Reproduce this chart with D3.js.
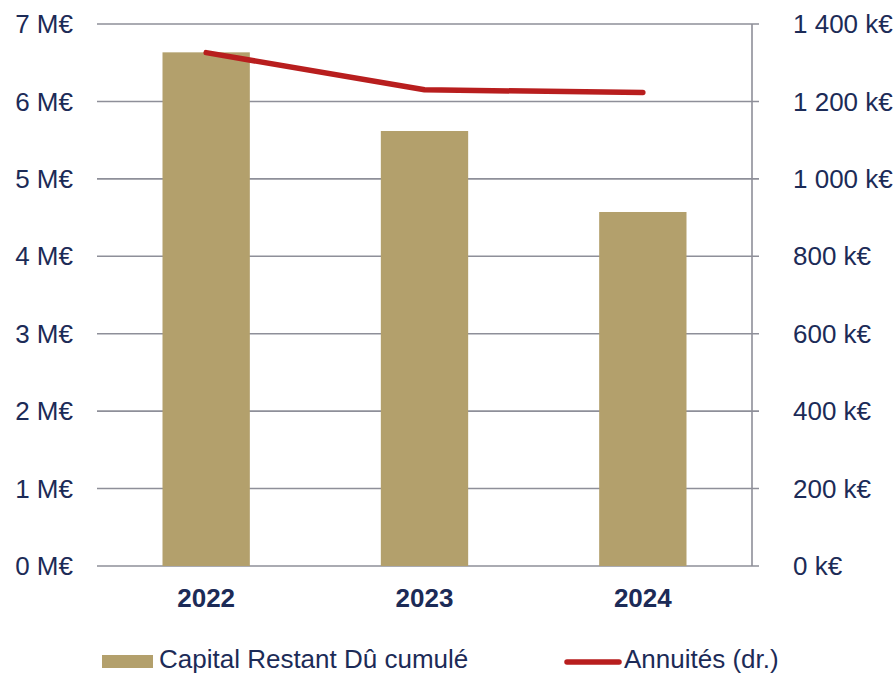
<!DOCTYPE html>
<html><head><meta charset="utf-8">
<script src="https://cdn.jsdelivr.net/npm/d3@7/dist/d3.min.js"></script>
<style>body{margin:0;background:#fff;} svg{display:block;font-family:Arial,"Liberation Sans",sans-serif;}</style>
</head><body><svg id="c" width="895" height="674"></svg>
<script>
const categories = ["2022", "2023", "2024"];
const capitalValues = [6.634, 5.618, 4.572]; // M€
const annuitesValues = [1326, 1230, 1223]; // k€
const leftTicks = [0, 1, 2, 3, 4, 5, 6, 7];
const rightTicks = [0, 200, 400, 600, 800, 1000, 1200, 1400];
const seriesNames = ["Capital Restant Dû cumulé", "Annuités (dr.)"];

const W = 895, H = 674;
const m = {left: 97, right: 143, top: 24, bottom: 108};
const x0 = m.left, x1 = W - m.right, y0 = H - m.bottom, y1 = m.top;
const textColor = "#1C2B57", gridColor = "#8E8F99", barColor = "#B3A06C", lineColor = "#B81E1E";

const svg = d3.select("#c");
const x = d3.scaleBand().domain(categories).range([x0, x1]).paddingInner(0.6).paddingOuter(0.3);
const yL = d3.scaleLinear().domain([0, 7]).range([y0, y1]);
const yR = d3.scaleLinear().domain([0, 1400]).range([y0, y1]);

// gridlines
svg.append("g").selectAll("line").data(leftTicks).join("line")
  .attr("x1", x0).attr("x2", x1 + 7)
  .attr("y1", d => yL(d)).attr("y2", d => yL(d))
  .attr("stroke", gridColor).attr("stroke-width", 1.6);

// right axis line
svg.append("line").attr("x1", x1).attr("x2", x1).attr("y1", y1).attr("y2", y0)
  .attr("stroke", gridColor).attr("stroke-width", 1.6);

// bars
svg.append("g").selectAll("rect").data(categories).join("rect")
  .attr("x", d => x(d)).attr("width", x.bandwidth())
  .attr("y", (d, i) => yL(capitalValues[i]))
  .attr("height", (d, i) => y0 - yL(capitalValues[i]))
  .attr("fill", barColor);

// line
const line = d3.line().x((d, i) => x(categories[i]) + x.bandwidth() / 2).y(d => yR(d));
svg.append("path").datum(annuitesValues).attr("d", line)
  .attr("fill", "none").attr("stroke", lineColor).attr("stroke-width", 5.5)
  .attr("stroke-linecap", "round").attr("stroke-linejoin", "round");

// left labels
svg.append("g").selectAll("text").data(leftTicks).join("text")
  .attr("x", 73).attr("y", d => yL(d)).attr("dy", "0.35em")
  .attr("text-anchor", "end").attr("font-size", 26).attr("fill", textColor)
  .text(d => d + " M€");

// right labels
const fmtR = d => d3.format(",")(d).replace(/,/g, " ") + " k€";
svg.append("g").selectAll("text").data(rightTicks).join("text")
  .attr("x", 793).attr("y", d => yR(d)).attr("dy", "0.35em")
  .attr("text-anchor", "start").attr("font-size", 26).attr("fill", textColor)
  .text(fmtR);

// x labels
svg.append("g").selectAll("text").data(categories).join("text")
  .attr("x", d => x(d) + x.bandwidth() / 2).attr("y", 607)
  .attr("text-anchor", "middle").attr("font-size", 26).attr("font-weight", "bold").attr("fill", textColor)
  .text(d => d);

// legend
const lg = svg.append("g");
lg.append("rect").attr("x", 102).attr("y", 655).attr("width", 51).attr("height", 13).attr("fill", barColor);
lg.append("text").attr("x", 159).attr("y", 668).attr("font-size", 26).attr("fill", textColor).text(seriesNames[0]);
lg.append("line").attr("x1", 567).attr("x2", 619).attr("y1", 662).attr("y2", 662)
  .attr("stroke", lineColor).attr("stroke-width", 5.5).attr("stroke-linecap", "round");
lg.append("text").attr("x", 624).attr("y", 668).attr("font-size", 26).attr("fill", textColor).text(seriesNames[1]);
</script></body></html>
